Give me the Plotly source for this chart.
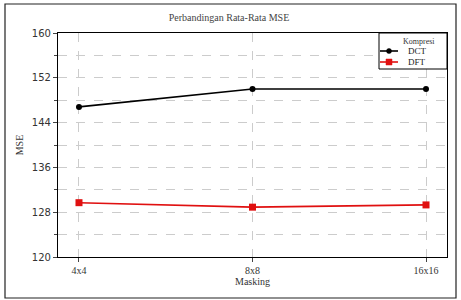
import plotly.graph_objects as go

categories = ["4x4", "8x8", "16x16"]
dct = [146.8, 150.0, 150.0]
dft = [129.7, 128.9, 129.3]
series_names = ["DCT", "DFT"]
series_colors = ["black", "#e01010"]
legend_title = "Kompresi"

L, R, T, B = 58, 447, 33, 257
W, H = 461, 300

def px(x):
    return (x - L) / (R - L)

def py(y):
    return (B - y) / (B - T)

serif = "Liberation Serif"

fig = go.Figure()
fig.add_trace(go.Scatter(x=categories, y=dct, name=series_names[0], mode="lines+markers",
                         line=dict(color=series_colors[0], width=1.6),
                         marker=dict(symbol="circle", size=6, color=series_colors[0])))
fig.add_trace(go.Scatter(x=categories, y=dft, name=series_names[1], mode="lines+markers",
                         line=dict(color=series_colors[1], width=1.6),
                         marker=dict(symbol="square", size=7, color=series_colors[1])))

fig.update_layout(
    width=W, height=H,
    margin=dict(l=L, r=W - R, t=T, b=H - B),
    paper_bgcolor="white", plot_bgcolor="white",
    title=dict(text="Perbandingan Rata-Rata MSE", x=229 / W, xanchor="center",
               y=1 - 17 / H, yanchor="middle",
               font=dict(family=serif, size=10, color="#444")),
    showlegend=False,
    xaxis=dict(type="category", range=[-0.121, 2.121],
               showline=True, linecolor="black", linewidth=1.2, mirror=True,
               ticks="outside", ticklen=4, tickcolor="#444",
               showgrid=True, gridcolor="#cccccc", griddash="dash", gridwidth=1,
               tickfont=dict(family=serif, size=10, color="#333"),
               title=dict(text="Masking", font=dict(family=serif, size=10, color="#333"), standoff=2)),
    yaxis=dict(range=[120, 160], tickvals=[120, 128, 136, 144, 152, 160],
               showline=True, linecolor="black", linewidth=1.2, mirror=True,
               ticks="outside", ticklen=4, tickcolor="#444",
               showgrid=True, gridcolor="#cccccc", griddash="dash", gridwidth=1,
               minor=dict(dtick=4, tick0=120, showgrid=True, gridcolor="#cccccc", griddash="dash",
                          ticks="outside", ticklen=3, tickcolor="#444"),
               tickfont=dict(family="DejaVu Sans", size=10, color="#333"),
               title=dict(text="MSE", font=dict(family=serif, size=10, color="#333"), standoff=6)),
)

# outer frame
fig.add_shape(type="rect", xref="paper", yref="paper",
              x0=px(5), x1=px(456), y0=py(298), y1=py(4),
              line=dict(color="#222", width=1.2), fillcolor="rgba(0,0,0,0)", layer="below")

# compact legend box
fig.add_shape(type="rect", xref="paper", yref="paper",
              x0=px(379), x1=px(447), y0=py(69), y1=py(33),
              line=dict(color="black", width=1), fillcolor="white", layer="above")
fig.add_annotation(text=legend_title, xref="paper", yref="paper", x=px(437), y=py(42),
                   xanchor="right", yanchor="middle", showarrow=False,
                   font=dict(family=serif, size=8, color="#333"))
rows_y = [51, 62]
symbols = ["circle", "square"]
for name, color, sym, ry in zip(series_names, series_colors, symbols, rows_y):
    fig.add_shape(type="line", xref="paper", yref="paper",
                  x0=px(380), x1=px(398), y0=py(ry), y1=py(ry),
                  line=dict(color=color, width=1.6), layer="above")
    r = 2.5 if sym == "circle" else 3
    fig.add_shape(type="circle" if sym == "circle" else "rect", xref="paper", yref="paper",
                  x0=px(389 - r), x1=px(389 + r), y0=py(ry + r), y1=py(ry - r),
                  line=dict(color=color, width=0.5), fillcolor=color, layer="above")
    fig.add_annotation(text=name, xref="paper", yref="paper", x=px(406), y=py(ry),
                       xanchor="left", yanchor="middle", showarrow=False,
                       font=dict(family=serif, size=9, color="#222"))

fig.write_html("out.html")
